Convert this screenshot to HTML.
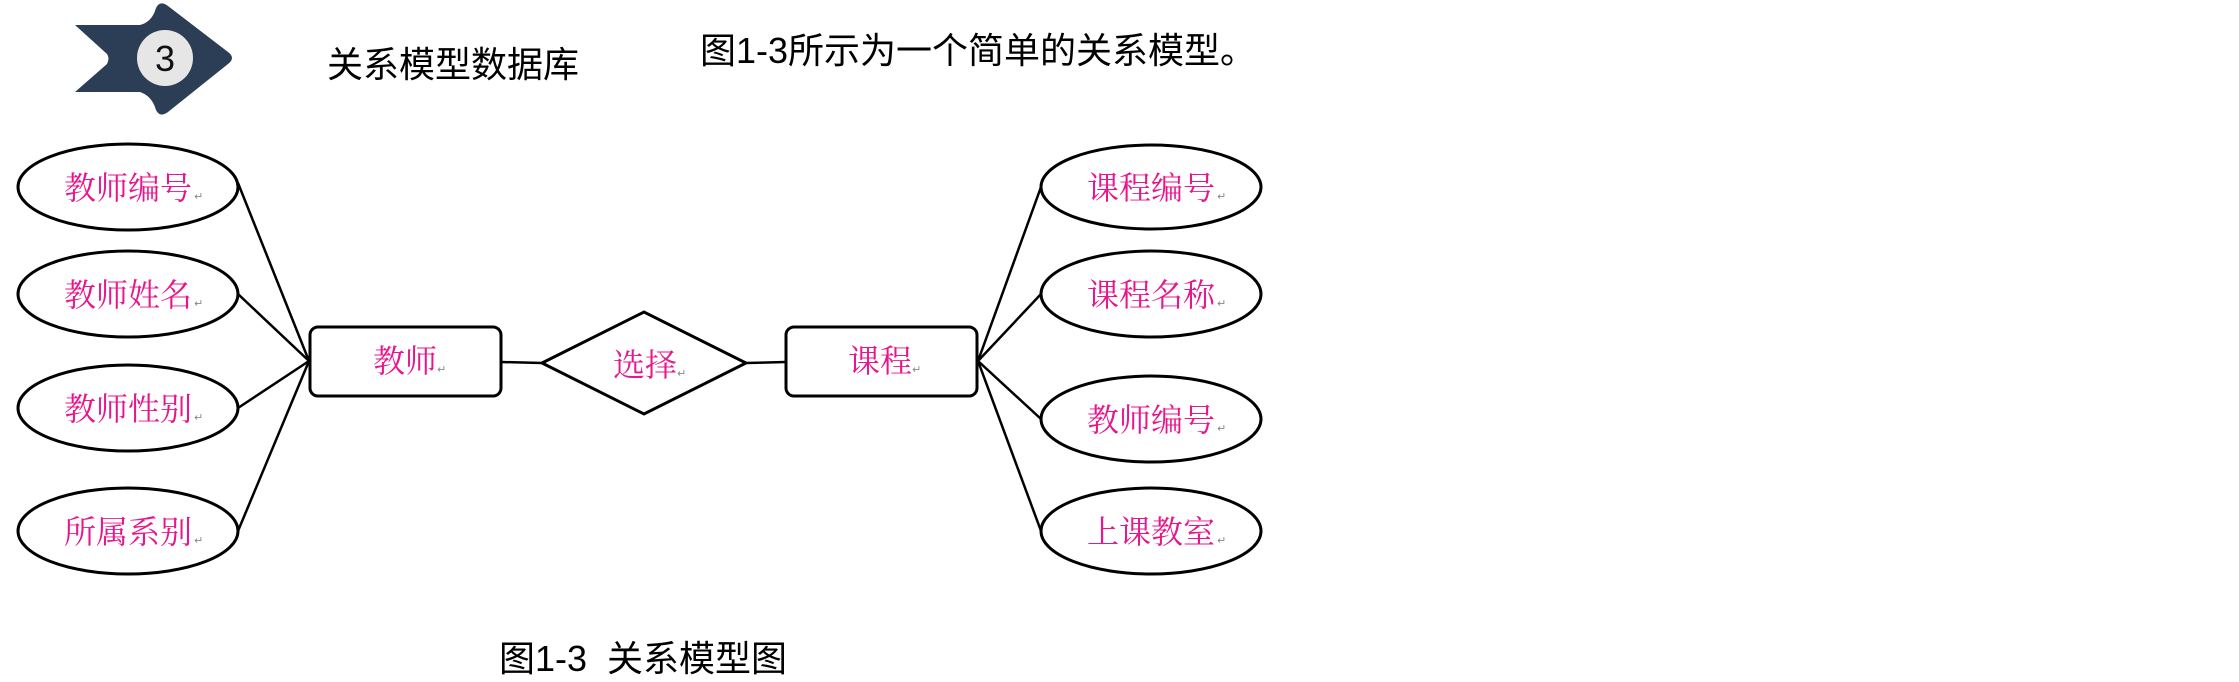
<!DOCTYPE html>
<html><head><meta charset="utf-8"><style>
html,body{margin:0;padding:0;background:#fff;}
body{width:2239px;height:682px;overflow:hidden;position:relative;}
.t{position:absolute;font-family:"Liberation Sans","Noto Sans CJK SC",sans-serif;color:#000;white-space:nowrap;}
</style></head><body>
<svg width="2239" height="682" style="position:absolute;left:0;top:0">
<path d="M75,25 L140,25 Q152,22 156,8 Q160,0 168,6 L228,52 Q236,58 228,64 L168,112 Q160,118 156,110 Q152,96 140,92 L75,92 L107,64 Q110,58 107,54 Z" fill="#2c3e55"/>
<circle cx="165" cy="58" r="28" fill="#e6e6e6"/>
<text x="165" y="71" font-family="Liberation Sans,sans-serif" font-size="36" text-anchor="middle" fill="#111">3</text>
<g fill="#fff" stroke="#000" stroke-width="3">
<ellipse cx="128" cy="187" rx="110" ry="43"/>
<ellipse cx="128" cy="294" rx="110" ry="43"/>
<ellipse cx="128" cy="408" rx="110" ry="43"/>
<ellipse cx="128" cy="531" rx="110" ry="43"/>
<ellipse cx="1151" cy="187" rx="110" ry="42"/>
<ellipse cx="1151" cy="294" rx="110" ry="43"/>
<ellipse cx="1151" cy="419" rx="110" ry="43"/>
<ellipse cx="1151" cy="531" rx="110" ry="43"/>
<rect x="310" y="327" width="191" height="69" rx="8"/>
<rect x="786" y="327" width="191" height="69" rx="8"/>
<polygon points="542,363 644,312 746,363 644,414"/>
</g>
<g stroke="#000" stroke-width="2.5" fill="none">
<line x1="238" y1="183" x2="309" y2="361"/>
<line x1="238" y1="294" x2="309" y2="361"/>
<line x1="238" y1="408" x2="309" y2="361"/>
<line x1="238" y1="531" x2="309" y2="361"/>
<line x1="501" y1="362" x2="542" y2="363"/>
<line x1="746" y1="363" x2="786" y2="362"/>
<line x1="978" y1="361" x2="1041" y2="187"/>
<line x1="978" y1="361" x2="1041" y2="294"/>
<line x1="978" y1="361" x2="1041" y2="419"/>
<line x1="978" y1="361" x2="1041" y2="531"/>
</g>
<g font-family="Liberation Serif,Noto Serif CJK SC,serif" font-size="32" fill="#e8168c" text-anchor="middle">
<text x="128" y="199">教师编号</text>
<text x="128" y="306">教师姓名</text>
<text x="128" y="420">教师性别</text>
<text x="128" y="543">所属系别</text>
<text x="1151" y="199">课程编号</text>
<text x="1151" y="306">课程名称</text>
<text x="1151" y="431">教师编号</text>
<text x="1151" y="543">上课教室</text>
<text x="405" y="372">教师</text>
<text x="645" y="376">选择</text>
<text x="880" y="372">课程</text>
</g>
<g font-family="DejaVu Sans,sans-serif" font-size="11" fill="#888">
<text x="194" y="200">↵</text><text x="194" y="307">↵</text><text x="194" y="421">↵</text><text x="194" y="544">↵</text>
<text x="1217" y="200">↵</text><text x="1217" y="307">↵</text><text x="1217" y="432">↵</text><text x="1217" y="544">↵</text>
<text x="437" y="373">↵</text><text x="677" y="377">↵</text><text x="912" y="373">↵</text>
</g>
</svg>
<div class="t" style="left:327px;top:44px;font-size:36px;line-height:42px;">关系模型数据库</div>
<div class="t" style="left:700px;top:30px;font-size:36px;line-height:42px;">图1-3所示为一个简单的关系模型。</div>
<div class="t" style="left:499px;top:638px;font-size:36px;line-height:42px;">图1-3&nbsp; 关系模型图</div>
</body></html>
